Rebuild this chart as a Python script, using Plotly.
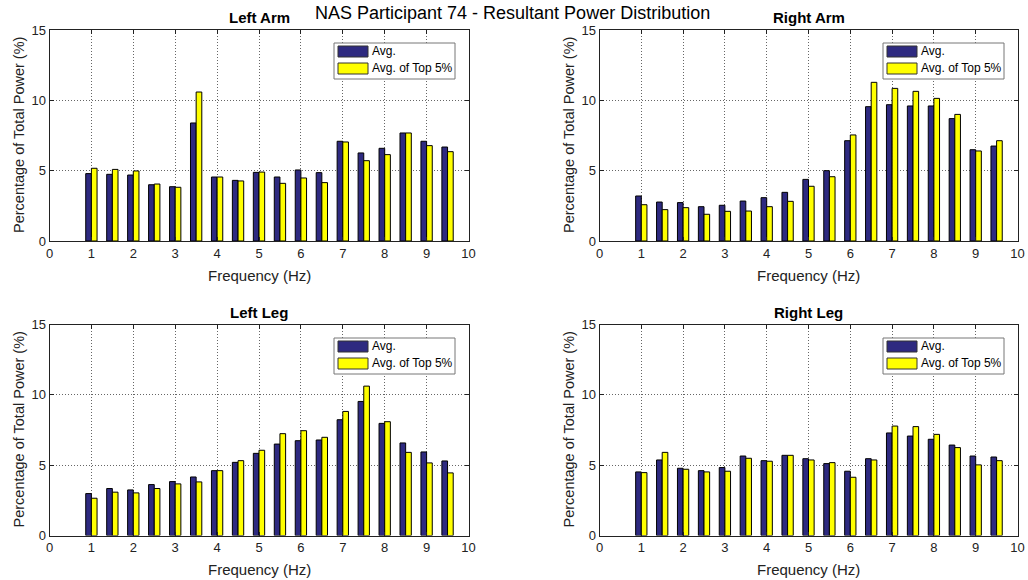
import plotly.graph_objects as go

# Frequency bins (Hz)
freq = [1.0, 1.5, 2.0, 2.5, 3.0, 3.5, 4.0, 4.5, 5.0, 5.5, 6.0, 6.5, 7.0, 7.5, 8.0, 8.5, 9.0, 9.5]

# Percentage of total power per bin: overall average and average of the top 5%
left_arm_avg = [4.79, 4.74, 4.69, 4.00, 3.86, 8.39, 4.55, 4.31, 4.88, 4.55, 5.05, 4.86, 7.09, 6.26, 6.59, 7.68, 7.09, 6.68]
left_arm_top = [5.17, 5.09, 4.98, 4.05, 3.82, 10.59, 4.55, 4.27, 4.90, 4.10, 4.48, 4.15, 7.04, 5.71, 6.14, 7.68, 6.78, 6.35]

right_arm_avg = [3.20, 2.77, 2.73, 2.44, 2.54, 2.84, 3.08, 3.46, 4.38, 5.00, 7.13, 9.55, 9.69, 9.60, 9.60, 8.70, 6.49, 6.75]
right_arm_top = [2.58, 2.23, 2.37, 1.90, 2.11, 2.13, 2.44, 2.82, 3.89, 4.57, 7.54, 11.28, 10.85, 10.64, 10.14, 9.00, 6.40, 7.13]

left_leg_avg = [2.98, 3.34, 3.24, 3.62, 3.83, 4.16, 4.61, 5.20, 5.84, 6.50, 6.74, 6.79, 8.23, 9.53, 7.97, 6.58, 5.94, 5.30]
left_leg_top = [2.65, 3.08, 3.03, 3.34, 3.67, 3.81, 4.61, 5.32, 6.06, 7.24, 7.45, 6.98, 8.82, 10.62, 8.09, 5.91, 5.16, 4.45]

right_leg_avg = [4.52, 5.37, 4.78, 4.61, 4.83, 5.65, 5.32, 5.70, 5.46, 5.11, 4.57, 5.46, 7.29, 7.07, 6.84, 6.43, 5.65, 5.58]
right_leg_top = [4.47, 5.91, 4.71, 4.52, 4.57, 5.49, 5.28, 5.70, 5.37, 5.18, 4.14, 5.37, 7.78, 7.74, 7.19, 6.25, 5.02, 5.32]

panel_titles = ["Left Arm", "Right Arm", "Left Leg", "Right Leg"]
series_names = ["Avg.", "Avg. of Top 5%"]
x_ticks = [0, 1, 2, 3, 4, 5, 6, 7, 8, 9, 10]
y_ticks = [0, 5, 10, 15]
x_title = "Frequency (Hz)"
y_title = "Percentage of Total Power (%)"

panels = [
    (left_arm_avg, left_arm_top),
    (right_arm_avg, right_arm_top),
    (left_leg_avg, left_leg_top),
    (right_leg_avg, right_leg_top),
]

W, H = 1028, 580
NAVY = "#2e2a80"
YELLOW = "#ffff00"
FONT = "Liberation Sans, Arial, sans-serif"
series_colors = [NAVY, YELLOW]

# plot-area boxes in pixels: (left, right, top, bottom)
boxes = [
    (49.5, 468.5, 30.0, 241.0),
    (599.5, 1017.5, 30.0, 241.0),
    (49.5, 468.5, 324.5, 535.5),
    (599.5, 1017.5, 324.5, 535.5),
]
# top-left corner of each panel's legend box, pixels
legend_pos = [(334, 43), (883, 43), (334, 338), (883, 338)]


def px(x):
    return x / W


def py(y):
    return 1 - y / H


fig = go.Figure()
bar_w = 0.135
shapes = []
annotations = []

for i, (avg, top) in enumerate(panels):
    n = i + 1
    xa = "x" if n == 1 else f"x{n}"
    ya = "y" if n == 1 else f"y{n}"
    for k, vals in enumerate((avg, top)):
        fig.add_trace(go.Bar(
            x=freq, y=vals, name=series_names[k], xaxis=xa, yaxis=ya,
            width=bar_w, offset=-bar_w if k == 0 else 0, showlegend=False,
            marker=dict(color=series_colors[k], line=dict(color="black", width=1)),
        ))

    l, r, t, b = boxes[i]
    axis_common = dict(
        showline=True, mirror="ticks", linecolor="#222", linewidth=1,
        ticks="inside", ticklen=4, tickcolor="#222",
        showgrid=True, gridcolor="#666", griddash="1px,2px", gridwidth=1,
        zeroline=False, automargin=False,
        tickfont=dict(family=FONT, size=13, color="#222"),
    )
    suffix = "" if n == 1 else str(n)
    fig.update_layout({
        f"xaxis{suffix}": dict(
            axis_common, domain=[px(l), px(r)], anchor=ya, range=[0, 10],
            tickvals=x_ticks, ticktext=[str(v) for v in x_ticks],
        ),
        f"yaxis{suffix}": dict(
            axis_common, domain=[py(b), py(t)], anchor=xa, range=[0, 15],
            tickvals=y_ticks, ticktext=[str(v) for v in y_ticks],
        ),
    })

    # axis titles
    annotations.append(dict(
        text=x_title, x=px((l + r) / 2), y=py(b + 34), xref="paper", yref="paper",
        xanchor="center", yanchor="middle", showarrow=False,
        font=dict(family=FONT, size=15, color="#222"),
    ))
    annotations.append(dict(
        text=y_title, x=px(l - 31), y=py((t + b) / 2), xref="paper", yref="paper",
        xanchor="center", yanchor="middle", textangle=-90, showarrow=False,
        font=dict(family=FONT, size=14.5, color="#222"),
    ))

    # legend box with wide colour patches
    lx, ly = legend_pos[i]
    shapes.append(dict(type="rect", xref="paper", yref="paper", layer="above",
                       x0=px(lx), x1=px(lx + 121), y0=py(ly + 36), y1=py(ly),
                       fillcolor="white", line=dict(color="#777", width=1)))
    for k in range(2):
        y0 = ly + 3 + k * 17
        shapes.append(dict(type="rect", xref="paper", yref="paper", layer="above",
                           x0=px(lx + 4), x1=px(lx + 34), y0=py(y0 + 11), y1=py(y0),
                           fillcolor=series_colors[k], line=dict(color="#333", width=1)))
        annotations.append(dict(text=series_names[k], x=px(lx + 36), y=py(y0 + 5.5),
                                xref="paper", yref="paper", xanchor="left", yanchor="middle",
                                showarrow=False, font=dict(family=FONT, size=12, color="black")))

    annotations.append(dict(
        text=f"<b>{panel_titles[i]}</b>", x=px((l + r) / 2), y=py(t - 12),
        xref="paper", yref="paper", xanchor="center", yanchor="middle",
        showarrow=False, font=dict(family=FONT, size=15, color="black"),
    ))

annotations.append(dict(
    text="NAS Participant 74 - Resultant Power Distribution",
    x=px(512), y=py(13.5), xref="paper", yref="paper", xanchor="center", yanchor="middle",
    showarrow=False, font=dict(family=FONT, size=18, color="black"),
))

fig.update_layout(
    width=W, height=H, margin=dict(l=0, r=0, t=0, b=0),
    paper_bgcolor="white", plot_bgcolor="white",
    barmode="overlay", showlegend=False,
    shapes=shapes, annotations=annotations,
)

fig.write_html("out.html")
